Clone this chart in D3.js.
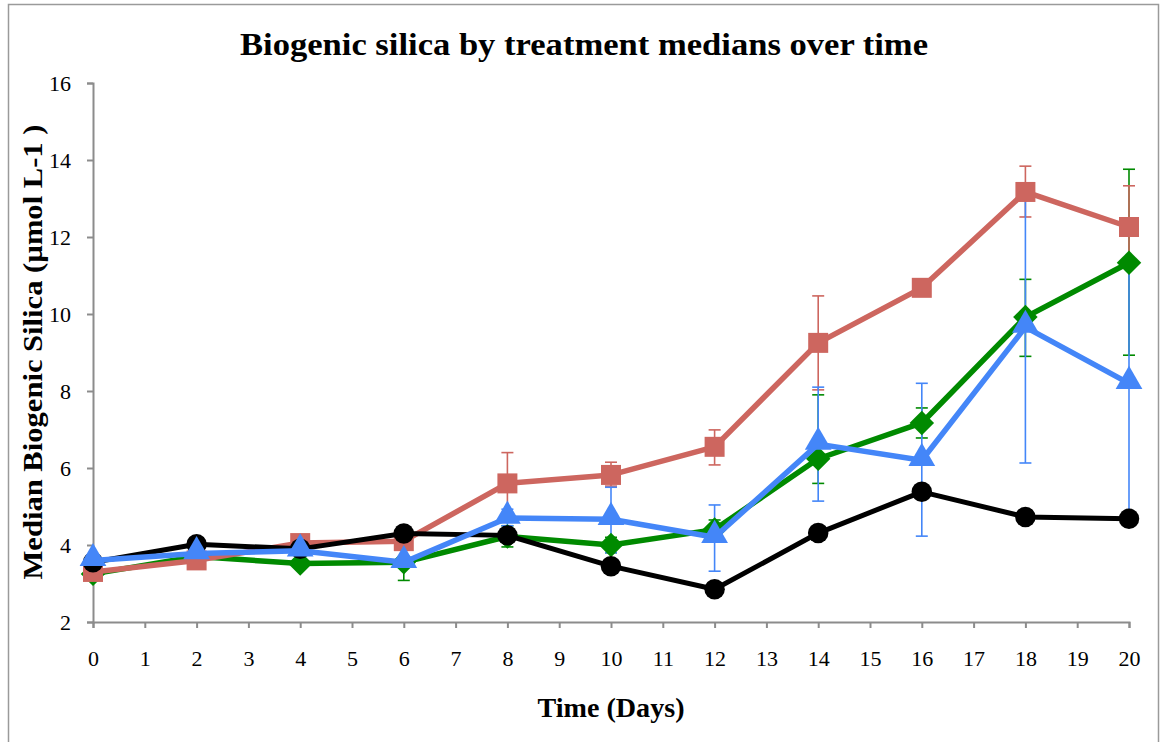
<!DOCTYPE html>
<html>
<head>
<meta charset="utf-8">
<script src="https://cdn.jsdelivr.net/npm/d3@7"></script>
<style>
  body { margin: 0; background: #fff; }
  svg { display: block; }
  text { font-family: "Liberation Serif", "DejaVu Serif", serif; fill: #000; }
</style>
</head>
<body>
<svg id="chart" width="1160" height="742"></svg>
<script>
// Data
const days = [0, 2, 4, 6, 8, 10, 12, 14, 16, 18, 20];
const xTicks = d3.range(0, 21);
const yTicks = [2, 4, 6, 8, 10, 12, 14, 16];

const blackVals = [3.55, 4.02, 3.9, 4.3, 4.25, 3.45, 2.85, 4.31, 5.38, 4.73, 4.68];
const redVals   = [3.3, 3.6, 4.05, 4.1, 5.6, 5.82, 6.55, 9.25, 10.68, 13.17, 12.26];
const greenVals = [3.25, 3.7, 3.52, 3.55, 4.22, 4.0, 4.4, 6.24, 7.17, 9.92, 11.33];
const blueVals  = [3.6, 3.78, 3.85, 3.55, 4.7, 4.67, 4.2, 6.62, 6.2, 9.66, 8.2];

// error bar low / high
const redLo   = [3.2, 3.5, 3.95, 3.95, 4.8, 5.53, 6.08, 8.03, 10.55, 12.52, 11.2];
const redHi   = [3.4, 3.7, 4.15, 4.25, 6.4, 6.15, 6.99, 10.47, 10.8, 13.84, 13.33];
const greenLo = [3.15, 3.6, 3.45, 3.08, 3.95, 3.8, 4.15, 5.6, 6.78, 8.9, 8.93];
const greenHi = [3.35, 3.8, 3.6, 4.0, 4.5, 4.2, 4.65, 7.9, 7.56, 10.9, 13.76];
const blueLo  = [3.5, 3.7, 3.75, 3.45, 4.5, 3.8, 3.32, 5.14, 4.23, 6.13, 4.85];
const blueHi  = [3.7, 3.85, 3.95, 3.65, 4.93, 5.5, 5.04, 8.1, 8.2, 13.05, 11.3];

const svg = d3.select("#chart");
const margin = { left: 93, right: 31, top: 83, bottom: 120 };
const W = 1160, H = 742;

const x = d3.scaleLinear().domain([0, 20]).range([margin.left, W - margin.right]);
const y = d3.scaleLinear().domain([2, 16]).range([H - margin.bottom, margin.top]);

// outer frame
svg.append("rect")
    .attr("x", 8.5).attr("y", 4.5)
    .attr("width", 1150).attr("height", 760)
    .attr("fill", "none").attr("stroke", "#9a9a9a").attr("stroke-width", 1.5);

// title
svg.append("text")
    .attr("x", 584).attr("y", 55)
    .attr("text-anchor", "middle")
    .attr("font-size", 31).attr("font-weight", "bold")
    .attr("textLength", 688).attr("lengthAdjust", "spacingAndGlyphs")
    .text("Biogenic silica by treatment medians over time");

// axes
const xAxis = svg.append("g")
    .attr("transform", `translate(0,${y(2)})`)
    .call(d3.axisBottom(x).tickValues(xTicks).tickSize(6).tickPadding(22).tickFormat(d3.format("d")));
const yAxis = svg.append("g")
    .attr("transform", `translate(${x(0)},0)`)
    .call(d3.axisLeft(y).tickValues(yTicks).tickSize(6).tickPadding(16).tickFormat(d3.format("d")));

[xAxis, yAxis].forEach(g => {
    g.select(".domain").attr("stroke", "#8c8c8c").attr("stroke-width", 2);
    g.selectAll(".tick line").attr("stroke", "#8c8c8c").attr("stroke-width", 2);
    g.selectAll(".tick text")
        .attr("font-family", "Liberation Serif, DejaVu Serif, serif")
        .attr("font-size", 22).attr("fill", "#000");
});

// axis titles
svg.append("text")
    .attr("x", 611).attr("y", 717)
    .attr("text-anchor", "middle")
    .attr("font-size", 27).attr("font-weight", "bold")
    .attr("textLength", 147).attr("lengthAdjust", "spacingAndGlyphs")
    .text("Time (Days)");

svg.append("text")
    .attr("transform", `translate(42,${352}) rotate(-90)`)
    .attr("text-anchor", "middle")
    .attr("font-size", 27).attr("font-weight", "bold")
    .attr("textLength", 455).attr("lengthAdjust", "spacingAndGlyphs")
    .text("Median Biogenic Silica (µmol L-1 )");

// series
const series = [
    { name: "green", color: "#008a00", vals: greenVals, lo: greenLo, hi: greenHi, shape: d3.symbolDiamond, size: 300, width: 5.5 },
    { name: "red",   color: "#cd665f", vals: redVals,   lo: redLo,   hi: redHi,   shape: d3.symbolSquare,  size: 400, width: 5.5 },
    { name: "black", color: "#000000", vals: blackVals, lo: null,    hi: null,    shape: d3.symbolCircle,  size: 330, width: 5 },
    { name: "blue",  color: "#4486f8", vals: blueVals,  lo: blueLo,  hi: blueHi,  shape: d3.symbolTriangle, size: 310, width: 5.5 }
];

const line = d3.line().x(d => x(d.day)).y(d => y(d.v));

// error bars first
series.forEach(s => {
    if (!s.lo) return;
    const eb = svg.append("g").attr("class", "err-" + s.name)
        .attr("stroke", s.color).attr("stroke-width", 1.6);
    days.forEach((day, i) => {
        const cx = x(day);
        eb.append("line").attr("x1", cx).attr("x2", cx).attr("y1", y(s.lo[i])).attr("y2", y(s.hi[i]));
        [s.lo[i], s.hi[i]].forEach(v => {
            eb.append("line").attr("x1", cx - 6).attr("x2", cx + 6).attr("y1", y(v)).attr("y2", y(v));
        });
    });
});

series.forEach(s => {
    const pts = days.map((day, i) => ({ day, v: s.vals[i] }));
    const g = svg.append("g").attr("class", "series-" + s.name);
    g.append("path")
        .datum(pts)
        .attr("d", line)
        .attr("fill", "none")
        .attr("stroke", s.color)
        .attr("stroke-width", s.width)
        .attr("stroke-linejoin", "round");
    g.selectAll("path.marker")
        .data(pts)
        .join("path")
        .attr("class", "marker")
        .attr("transform", d => {
            const rot = s.shape === d3.symbolDiamond ? " rotate(45)" : "";
            const dy = s.shape === d3.symbolTriangle ? -2 : 0;
            return `translate(${x(d.day)},${y(d.v) + dy})${rot}`;
        })
        .attr("d", d3.symbol().type(s.shape === d3.symbolDiamond ? d3.symbolSquare : s.shape).size(s.size))
        .attr("fill", s.color);
});
</script>
</body>
</html>
